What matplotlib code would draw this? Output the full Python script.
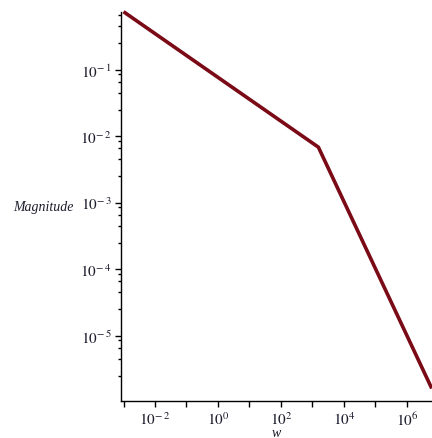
import matplotlib
matplotlib.use("Agg")
import matplotlib.pyplot as plt
from matplotlib.ticker import LogLocator, FuncFormatter, NullFormatter
import numpy as np

# Bode-style magnitude (log-log, piecewise straight)
w = [1e-3, 1550, 6.2e6]
magnitude = [0.74, 0.0068, 1.6e-6]

x_limits = (10 ** -3.08, 10 ** 6.8)
y_limits = (10 ** -5.98, 10 ** -0.135)

plt.rcParams['font.family'] = ['Liberation Serif', 'DejaVu Serif']
plt.rcParams['mathtext.fontset'] = 'stix'

TEXT = '#1c1c2c'
LINE = '#7a0a16'

fig = plt.figure(figsize=(4.32, 4.39), dpi=100)
ax = fig.add_axes([121 / 432, 1 - 401.7 / 439, 311 / 432, 388.7 / 439])

ax.plot(w, magnitude, color=LINE, lw=2.6, solid_capstyle='butt', clip_on=False)

ax.set_xscale('log')
ax.set_yscale('log')
ax.set_xlim(*x_limits)
ax.set_ylim(*y_limits)

for side in ['top', 'right']:
    ax.spines[side].set_visible(False)
for side in ['left', 'bottom']:
    ax.spines[side].set_linewidth(1.0)
    ax.spines[side].set_color('black')


def power_label(v):
    e = int(round(np.log10(v)))
    if e < 0:
        return r'$10^{-\,%d}$' % -e
    return r'$10^{%d}$' % e


def even_decades(x, pos):
    # only every other decade gets a label on the w axis
    if int(round(np.log10(x))) % 2 or not (x_limits[0] <= x <= x_limits[1]):
        return ''
    return power_label(x)


def y_decades(y, pos):
    # skip the ticks that fall just outside the view
    if not (y_limits[0] <= y <= y_limits[1]):
        return ''
    return power_label(y)


ax.xaxis.set_major_locator(LogLocator(base=10, numticks=20))
ax.xaxis.set_major_formatter(FuncFormatter(even_decades))
ax.xaxis.set_minor_formatter(NullFormatter())
ax.xaxis.set_minor_locator(LogLocator(base=10, subs=[], numticks=20))

ax.yaxis.set_major_locator(LogLocator(base=10, numticks=20))
ax.yaxis.set_major_formatter(FuncFormatter(y_decades))
ax.yaxis.set_minor_locator(LogLocator(base=10, subs=[2.5, 4.5, 6.5, 8.5], numticks=20))
ax.yaxis.set_minor_formatter(NullFormatter())

ax.tick_params(which='major', direction='out', length=4, width=1, colors='black',
               labelcolor=TEXT, labelsize=11, pad=3)
ax.tick_params(which='minor', direction='out', length=2.5, width=1, colors='black')

ax.set_xlabel('w', fontstyle='italic', fontsize=10, color=TEXT, va='baseline')
ax.xaxis.set_label_coords(0.5, -0.09)
ax.set_ylabel('Magnitude', fontstyle='italic', fontsize=10, color=TEXT, rotation=0,
              ha='center', va='center')
ax.yaxis.set_label_coords(-0.251, 0.5)

fig.savefig('out.png', dpi=100)
